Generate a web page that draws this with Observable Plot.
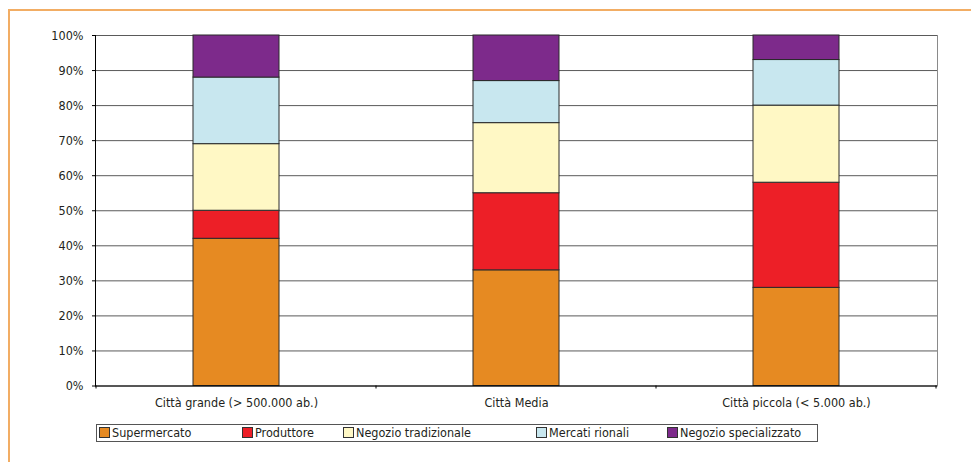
<!DOCTYPE html>
<html>
<head>
<meta charset="utf-8">
<script src="https://cdn.jsdelivr.net/npm/d3@7"></script>
<script src="https://cdn.jsdelivr.net/npm/@observablehq/plot@0.6"></script>
<style>
  html, body { margin: 0; padding: 0; background: #fff; }
  body { width: 971px; height: 462px; overflow: hidden; position: relative;
         font-family: "DejaVu Sans Condensed", "Liberation Sans Narrow", sans-serif; color: #231f20; }
  #frame { position: absolute; left: 8px; top: 9px; width: 980px; height: 470px;
           border-top: 2px solid #f2ad64; border-left: 2px solid #f2ad64; }
  #chart { position: absolute; left: 0; top: 0; }
  #legend { position: absolute; left: 96px; top: 424px; width: 722px; height: 18px;
            border: 1px solid #555; box-sizing: border-box; font-size: 12.5px; line-height: 16px; }
  .item { position: absolute; top: 0px; white-space: nowrap; }
  .sw { display: inline-block; width: 9px; height: 9px; border: 1px solid #333; margin-right: 2px; vertical-align: -1px; }
</style>
</head>
<body>
<div id="frame"></div>
<div id="chart"></div>
<div id="legend"></div>
<script>
const cities = ["Città grande (> 500.000 ab.)", "Città Media", "Città piccola (< 5.000 ab.)"];
const types = ["Supermercato", "Produttore", "Negozio tradizionale", "Mercati rionali", "Negozio specializzato"];
const colors = ["#e68a22", "#ed1f27", "#fff8c5", "#c8e7ef", "#7d2a8b"];
const supermercato = [42, 33, 28];
const produttore = [8, 22, 30];
const negozioTradizionale = [19, 20, 22];
const mercatiRionali = [19, 12, 13];
const negozioSpecializzato = [12, 13, 7];
const yTicks = [0, 10, 20, 30, 40, 50, 60, 70, 80, 90, 100];

const series = [supermercato, produttore, negozioTradizionale, mercatiRionali, negozioSpecializzato];
const data = [];
types.forEach((t, i) => cities.forEach((c, j) => data.push({city: c, type: t, value: series[i][j]})));

// category-boundary tick marks on the x axis, derived from the band scale
function boundaryTicks(index, scales) {
  const x = scales.x, y = scales.y;
  const half = (x.step() - x.bandwidth()) / 2;
  const xs = cities.map(c => x(c) - half);
  xs.push(x(cities[cities.length - 1]) + x.bandwidth() + half);
  const y0 = y(0);
  const g = d3.create("svg:g");
  g.selectAll("line").data(xs).join("line")
    .attr("x1", d => d).attr("x2", d => d)
    .attr("y1", y0).attr("y2", y0 + 3)
    .attr("stroke", "#000");
  return g.node();
}

const chart = Plot.plot({
  width: 971,
  height: 420,
  marginLeft: 95,
  marginRight: 34,
  marginTop: 35,
  marginBottom: 34.5,
  style: {fontFamily: '"DejaVu Sans Condensed", "Liberation Sans Narrow", sans-serif', fontSize: "12.5px", color: "#231f20", background: "transparent"},
  x: {domain: cities, paddingInner: 0.694, paddingOuter: 0.347, label: null},
  y: {domain: [0, 100], label: null},
  color: {domain: types, range: colors},
  marks: [
    Plot.ruleY(yTicks, {stroke: "#5a5a5a", strokeWidth: 1}),
    Plot.frame({anchor: "right", stroke: "#8a8a8a"}),
    Plot.barY(data, Plot.stackY({x: "city", y: "value", fill: "type", order: types, stroke: "#2a2a2a", strokeWidth: 1})),
    Plot.ruleY([0], {stroke: "#000"}),
    Plot.frame({anchor: "left", stroke: "#000"}),
    boundaryTicks,
    Plot.axisY({ticks: yTicks, tickFormat: d => d + "%", tickSize: 3, tickPadding: 9, fontSize: 12.5, stroke: "#000"}),
    Plot.axisX({tickSize: 0, tickPadding: 12, fontSize: 12.5})
  ]
});
document.getElementById("chart").appendChild(chart);

const lefts = [2, 145, 246, 439, 570];
const legend = document.getElementById("legend");
types.forEach((t, i) => {
  const d = document.createElement("div");
  d.className = "item";
  d.style.left = lefts[i] + "px";
  const sw = document.createElement("span");
  sw.className = "sw";
  sw.style.background = colors[i];
  d.appendChild(sw);
  d.appendChild(document.createTextNode(t));
  legend.appendChild(d);
});
</script>
</body>
</html>
